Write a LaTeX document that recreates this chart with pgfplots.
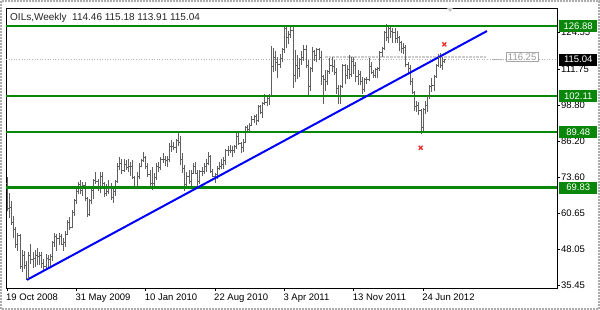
\documentclass[border=0pt]{standalone}
\usepackage{pgfplots}
\pgfplotsset{compat=1.18}
\usepackage{pgfplotstable}
\usepackage{fontspec}
\setmainfont{Liberation Sans}
\definecolor{lvl}{RGB}{10,135,10}
\definecolor{barc}{RGB}{95,95,95}
\definecolor{xred}{RGB}{240,40,40}
\pgfdeclareplotmark{otick}{\pgfpathmoveto{\pgfpoint{-1.1pt}{0pt}}\pgfpathlineto{\pgfpointorigin}\pgfusepathqstroke}
\pgfdeclareplotmark{ctick}{\pgfpathmoveto{\pgfpoint{1.1pt}{0pt}}\pgfpathlineto{\pgfpointorigin}\pgfusepathqstroke}
\pgfplotstableread{
w o h l c
0 71.5 73.6 61.5 62.5
1 62.5 68 59 63
2 63 65 56.5 57.5
3 57.5 60 52 55
4 55 56 48.5 50
5 50 54 47.5 53
6 53 53.5 41 42
7 42 48 40 46
8 46 47.5 41 42.5
9 42.5 44 37.2 38
10 38 47 37.5 46
11 46 50 43 44.5
12 44.5 47 41.5 45
13 45 48 42 46
14 46 48.5 42.5 45.5
15 45.5 47 42.5 46
16 46 47 41.5 43
17 43 44.5 40.5 42
18 42 46.5 41 45
19 45 46 41.5 44.5
20 44.5 46.5 42 45.5
21 45.5 51 44 50.5
22 50.5 54 49 52.5
23 52.5 53.5 47.5 52
24 52 54 49.5 52.5
25 52.5 53.5 49.5 50
26 50 52 47.5 50.5
27 50.5 54.5 49 53.5
28 53.5 58.5 53 57.5
29 57.5 59.5 55 56
30 56 62 55.5 61
31 61 66 60 65.5
32 65.5 69.5 64 68.5
33 68.5 72 67.5 71
34 71 72.5 67.5 69
35 69 72 67 70.5
36 70.5 72 65 66
37 66 66.5 59.5 60.5
38 60.5 66 60 65.5
39 65.5 70 64 69
40 69 73 66 72.5
41 72.5 75.5 71 72
42 72 73 68.5 70
43 70 75.5 68 74
44 74 75.5 70.5 71.5
45 71.5 72 66.5 68
46 68 71 67 68.5
47 68.5 72.5 67.5 69.5
48 69.5 71.5 65.5 66.5
49 66.5 70 64.5 68.5
50 68.5 72.5 67 72
51 72 78.5 71.5 77.5
52 77.5 80.5 76 78.5
53 78.5 80 74.5 76
54 76 80 75.5 78
55 78 79.5 76 77
56 77 80 75.5 77.5
57 77.5 79 74 77.5
58 77.5 79.5 73 73.5
59 73.5 74 69.5 70
60 70 75.5 70 74
61 74 78.5 73 77.5
62 77.5 80 77 79.5
63 79.5 82.5 79 80.5
64 80.5 81 76.5 77.5
65 77.5 78.5 73.5 74.5
66 74.5 76 70.5 71.5
67 71.5 77 69 71.5
68 71.5 75 70 73.5
69 73.5 78.5 72.5 77.5
70 77.5 79 75.5 77
71 77 80.5 76 80
72 80 82 78.5 80
73 80 81 77.5 79.5
74 79.5 81 77 80
75 80 85.5 79 84.5
76 84.5 86.5 82.5 84.5
77 84.5 86 83 84
78 84 87 82 86.5
79 86.5 89.5 84.5 86
80 86 88 78 80
81 80 82 75 76.5
82 76.5 78 68.5 71
83 71 75.5 69.5 74
84 74 76 71 72
85 72 76 70 75
86 75 78.5 74.5 77.5
87 77.5 79 74.5 75
88 75 76 70.5 72
89 72 76 71 75.5
90 75.5 77 74 75.5
91 75.5 78.5 74.5 77.5
92 77.5 80 75.5 78.5
93 78.5 82.5 78 81
94 81 81.5 75 75.5
95 75.5 76.5 73.5 74
96 74 75 71.5 74.5
97 74.5 77.5 73 76.5
98 76.5 79 76 77.5
99 77.5 80 76.5 78
100 78 80.5 76.5 79.5
101 79.5 83.5 78 83
102 83 84.5 81 83
103 83 85 82 83
104 83 84.5 80.5 83
105 83 85 82 84.5
106 84.5 89.5 83.5 88
107 88 90 85 85.5
108 85.5 86 82 84
109 84 87 82.5 86
110 86 91.5 85.5 91
111 91 92 89 90.5
112 90.5 92.5 89.5 92
113 92 95 91.5 94
114 94 95.5 92.5 95
115 95 96 92 93.5
116 93.5 99 93 98.5
117 98.5 99 96 96.5
118 96.5 100 94.5 99.5
119 99.5 103 99 100
120 100 102.5 98.5 101.5
121 101.5 103 99 102.5
122 102.5 119.8 102 112.5
123 112.5 119 110.5 116
124 116 118 111 114
125 114 116 108.5 113.5
126 113.5 117 112 115.5
127 115.5 119 114 118.5
128 118.5 126.5 117.5 126
129 126 127 119 123
130 123 125 120.5 124
131 124 127 122.5 125.5
132 125.5 126.5 105 109.5
133 109.5 118.5 107 113
134 113 116.5 108 112
135 112 115.5 109 115
136 115 118 113 116
137 116 120 114.5 118.5
138 118.5 120 112 113
139 113 115 102.5 105.5
140 105.5 112.5 104 112
141 112 119.5 110.5 118
142 118 118.5 114.5 116.5
143 116.5 119 114 118.5
144 118.5 119 115 116
145 116 118 106 109
146 109 109.5 99.5 108
147 108 111.5 104 107.5
148 107.5 111.5 106 111
149 111 115.5 110 113
150 113 116 110.5 112.5
151 112.5 115 109.5 110.5
152 110.5 112 103 105
153 105 106 99.5 102.5
154 102.5 106 99.5 105.5
155 105.5 113.5 105 113
156 113 113.5 106.5 109.5
157 109.5 113 108 111.5
158 111.5 116.5 108 110
159 110 116 109 114.5
160 114.5 116 110 113
161 113 114 107 109
162 109 111.5 106 110
163 110 111 106 107.5
164 107.5 109 102.8 104.5
165 104.5 108.5 103.5 108
166 108 109 106.5 108
167 108 115.5 107.5 112.5
168 112.5 114 110 110.5
169 110.5 111.5 108.5 109.5
170 109.5 112 108.5 111.5
171 111.5 112.5 108.5 112
172 112 118 111 117.5
173 117.5 119.5 116 119
174 119 125 118.5 124.5
175 124.5 127.6 121.5 123
176 123 126.5 121 126
177 126 126.5 122.5 125
178 125 126 121 124.5
179 124.5 126 121 122.5
180 122.5 125 121 123
181 123 123.5 118 121
182 121 121.5 117.5 119
183 119 121 117 119.5
184 119.5 120 112.5 113.5
185 113.5 114 110 112
186 112 113 106 107.5
187 107.5 108.5 103 103.5
188 103.5 104 97 98.5
189 98.5 100.5 96.5 99
190 99 100 95.5 97
191 97 97.5 88.8 91
192 91 98 89.5 97.5
193 97.5 100.5 96 99
194 99 102.5 96.5 102
195 102 106 101 105.5
196 105.5 108.5 103.5 106
197 106 109.5 104 109
198 109 113.5 108.5 113
199 113 117 112.5 116
200 116 117.5 112 113
201 113 116 111.5 114.5
202 114.46 115.18 113.91 115.04
}\ohlc
\begin{document}
\begin{tikzpicture}[x=1pt,y=1pt]
\path[use as bounding box] (0,0) rectangle (600,310);
\fill[white] (0,0) rectangle (600,310);
\draw[gray!65, line width=2pt, densely dotted] (1,1) rectangle (599,309);
\begin{axis}[at={(6pt,22pt)}, anchor=south west, scale only axis,
  width=551pt, height=280pt,
  xmin=-0.46, xmax=253.8, ymin=34.43, ymax=133.23,
  axis line style={black, line width=0.7pt},
  tick align=outside, major tick length=3pt,
  tick style={black, line width=0.6pt},
  xtick pos=bottom, ytick pos=right,
  xtick={0,32,64,96,128,160,192},
  xticklabels={19 Oct 2008, 31 May 2009, 10 Jan 2010, 22 Aug 2010, 3 Apr 2011, 13 Nov 2011, 24 Jun 2012},
  xticklabel style={anchor=north west, inner sep=0pt, xshift=-1pt, yshift=-3pt, font=\fontsize{9.5}{11}\selectfont},
  ytick={35.45,48.05,60.65,73.60,86.20,98.80,111.75,124.55},
  yticklabels={35.45,48.05,60.65,73.60,86.20,98.80,111.75,124.55},
  yticklabel pos=right,
  yticklabel style={anchor=west, inner sep=0pt, xshift=1pt, font=\fontsize{9.5}{11}\selectfont},
  clip=false]
% bid line and 116.25 line
\addplot[gray!60, dotted, line width=0.6pt, forget plot] coordinates {(-0.46,115.04) (253.8,115.04)};
\addplot[gray!40, densely dotted, line width=2.6pt, forget plot] coordinates {(146.8,116.0) (221.5,116.0)};
\addplot[gray!60, line width=0.6pt, forget plot] coordinates {(223.8,115.2) (228.5,115.2)};
% OHLC bars
\addplot[draw=none, mark=none, forget plot,
  error bars/.cd, y dir=plus, y explicit, error mark=none,
  error bar style={draw=barc, line width=0.8pt}]
  table[x=w, y=l, y error plus expr=\thisrow{h}-\thisrow{l}] {\ohlc};
\addplot[draw=barc, only marks, mark=otick, line width=0.6pt, forget plot] table[x=w, y=o] {\ohlc};
\addplot[draw=barc, only marks, mark=ctick, line width=0.6pt, forget plot] table[x=w, y=c] {\ohlc};
% levels (filled bands)
\addplot[fill=lvl, draw=none, mark=none, forget plot] coordinates {(-0.46,69.33) (253.8,69.33) (253.8,70.33) (-0.46,70.33)} -- cycle;
\addplot[fill=lvl, draw=none, mark=none, forget plot] coordinates {(-0.46,89.10) (253.8,89.10) (253.8,89.86) (-0.46,89.86)} -- cycle;
\addplot[fill=lvl, draw=none, mark=none, forget plot] coordinates {(-0.46,101.73) (253.8,101.73) (253.8,102.49) (-0.46,102.49)} -- cycle;
\addplot[fill=lvl, draw=none, mark=none, forget plot] coordinates {(-0.46,126.50) (253.8,126.50) (253.8,127.26) (-0.46,127.26)} -- cycle;
% trendline
\addplot[draw=blue, line width=2pt, mark=none, forget plot] coordinates {(9.2,37.3) (221.5,125.1)};
% red marks
\addplot[only marks, mark=x, mark size=2.8pt, draw=xred, line width=1.3pt, forget plot] coordinates {(201.8,120.4) (190.9,83.9)};
% label anchors
\coordinate (L1) at (axis cs:253.8,126.88);
\coordinate (L2) at (axis cs:253.8,102.11);
\coordinate (L3) at (axis cs:253.8,89.48);
\coordinate (L4) at (axis cs:253.8,69.83);
\coordinate (LB) at (axis cs:253.8,115.04);
\coordinate (LG) at (axis cs:237.7,116.0);
\coordinate (TT) at (rel axis cs:0,1);
\coordinate (TR) at (axis cs:204.4,133.23);
\end{axis}
\tikzset{lab/.style={anchor=west, text=white, inner xsep=3pt, inner ysep=1.5pt, minimum width=38pt, minimum height=12pt, font=\fontsize{9.5}{11}\selectfont}}
\node[lab, fill=lvl, xshift=2pt] at (L1) {126.88};
\node[lab, fill=lvl, xshift=2pt] at (L2) {102.11};
\node[lab, fill=lvl, xshift=2pt] at (L3) {89.48};
\node[lab, fill=lvl, xshift=2pt] at (L4) {69.83};
\node[lab, fill=black, xshift=2pt] at (LB) {115.04};
\node[draw=gray!70, fill=white, text=gray!80, inner xsep=2pt, inner ysep=1.5pt, font=\fontsize{9.5}{11}\selectfont] at (LG) {116.25};
\node[anchor=north west, inner sep=0pt, xshift=4pt, yshift=-5pt, text=black!85, font=\fontsize{10}{12}\selectfont] at (TT) {OILs,Weekly\ \ 114.46 115.18 113.91 115.04};
\fill[gray!45] ([xshift=-3pt]TR) -- ([xshift=3pt]TR) -- ([yshift=-4pt]TR) -- cycle;
\end{tikzpicture}
\end{document}
